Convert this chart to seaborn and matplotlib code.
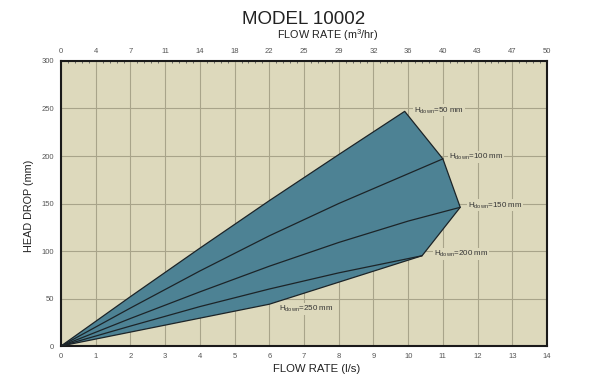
import numpy as np
import pandas as pd
import seaborn as sns
import matplotlib.pyplot as plt
from matplotlib.ticker import MultipleLocator

# flow rate (l/s) and head drop (mm) along each Hdown curve
flow_50 = [0, 2, 4, 6, 8, 9.9]
head_50 = [0, 52, 103, 153, 201.5, 247]
flow_100 = [0, 2, 4, 6, 8, 11.0]
head_100 = [0, 40, 79, 116, 150, 197]
flow_150 = [0, 2, 4, 6, 8, 10, 11.5]
head_150 = [0, 29, 57, 84, 109, 131.5, 146]
flow_200 = [0, 2, 4, 6, 8, 10.4]
head_200 = [0, 21, 41.5, 60, 77, 95]
flow_250 = [0, 6, 10.4]
head_250 = [0, 44, 95]

curve_names = ['50', '100', '150', '200', '250']
# label anchor (flow, head) for each curve
label_flow = [10.17, 11.18, 11.73, 10.75, 6.28]
label_head = [248, 199, 148, 97, 39]

top_ticks = [0, 4, 7, 11, 14, 18, 22, 25, 29, 32, 36, 40, 43, 47, 50]

sns.set_style('white')
plt.rcParams['font.family'] = ['Liberation Sans', 'DejaVu Sans']

fig = plt.figure(figsize=(6, 3.88), dpi=100)
ax = fig.add_axes([0.1017, 0.1082, 0.81, 0.7346])
ax.set_facecolor('#ddd9bc')

# envelope of the operating range
env_x = flow_50 + [flow_100[-1], flow_150[-1], flow_200[-1]] + flow_250[::-1]
env_y = head_50 + [head_100[-1], head_150[-1], head_200[-1]] + head_250[::-1]
ax.fill(env_x, env_y, color='#4d8294', zorder=2, lw=0)
ax.plot(env_x, env_y, color='#1c2428', lw=0.9, zorder=3)

df = pd.concat([
    pd.DataFrame({'flow': flow_100, 'head': head_100, 'h': '100'}),
    pd.DataFrame({'flow': flow_150, 'head': head_150, 'h': '150'}),
    pd.DataFrame({'flow': flow_200, 'head': head_200, 'h': '200'}),
])
sns.lineplot(data=df, x='flow', y='head', units='h', estimator=None,
             color='#1c2428', lw=0.9, ax=ax, zorder=3, sort=False)

for name, lx, ly in zip(curve_names, label_flow, label_head):
    ax.text(lx, ly, 'H$_{\\mathregular{down}}$=' + name + ' mm', fontsize=5.8,
            va='center', ha='left', color='#333333', zorder=4,
            bbox=dict(facecolor='#ddd9bc', edgecolor='none', pad=0.5))

ax.set_xlim(0, 14)
ax.set_ylim(0, 300)
ax.xaxis.set_major_locator(MultipleLocator(1))
ax.xaxis.set_minor_locator(MultipleLocator(0.2))
ax.yaxis.set_major_locator(MultipleLocator(50))
ax.grid(True, which='major', color='#a8a48a', lw=0.8, zorder=1)
ax.set_axisbelow(True)
ax.tick_params(axis='both', which='both', direction='in', labelsize=5.5,
               colors='#555555', length=2.5, width=0.6, pad=5)
ax.tick_params(axis='x', which='minor', length=1.5)
for s in ax.spines.values():
    s.set_color('#1a1a1a')
    s.set_linewidth(1.5)

ax.set_xlabel('')
ax.set_ylabel('HEAD DROP (mm)', fontsize=7.8, color='#222222')
ax.yaxis.set_label_coords(-0.055, 0.49)

top = ax.secondary_xaxis('top')
top.set_xticks(range(15))
top.set_xticklabels([str(t) for t in top_ticks])
top.xaxis.set_minor_locator(MultipleLocator(0.2))
top.tick_params(axis='x', which='both', direction='in', labelsize=5.5,
                colors='#555555', length=2.5, width=0.6, pad=4)
top.tick_params(axis='x', which='minor', length=1.5)
top.spines['top'].set_visible(False)

fig.text(0.506, 0.951, 'MODEL 10002', fontsize=13.5, ha='center', va='center', color='#222222')
fig.text(0.547, 0.910, 'FLOW RATE (m$^\\mathregular{3}$/hr)', fontsize=7.8, ha='center', va='center', color='#222222')
fig.text(0.5275, 0.049, 'FLOW RATE (l/s)', fontsize=8.2, ha='center', va='center', color='#222222')

fig.savefig('out.png', dpi=100)
